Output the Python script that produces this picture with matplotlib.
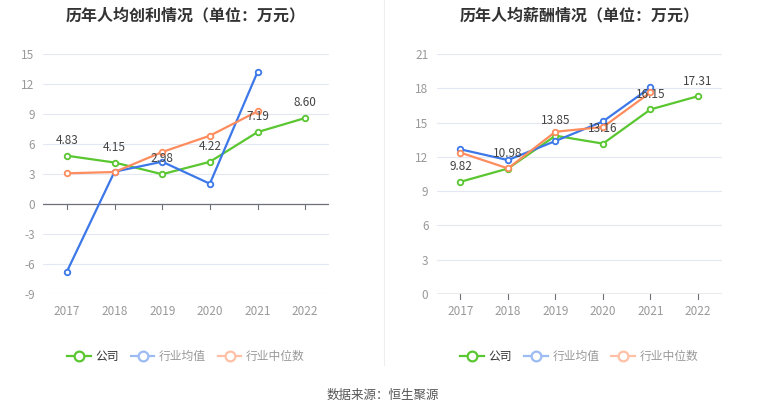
import numpy as np
import matplotlib.pyplot as plt
from matplotlib.lines import Line2D

plt.rcParams['font.family'] = ['Noto Sans CJK SC', 'DejaVu Sans']

years = ['2017', '2018', '2019', '2020', '2021', '2022']

# 人均创利
profit_company = [4.83, 4.15, 2.98, 4.22, 7.19, 8.60]
profit_mean = [-6.77, 3.23, 4.23, 2.03, 13.2]
profit_median = [3.07, 3.20, 5.20, 6.83, 9.27]

# 人均薪酬
salary_company = [9.82, 10.98, 13.85, 13.16, 16.15, 17.31]
salary_mean = [12.66, 11.72, 13.39, 15.10, 18.08]
salary_median = [12.37, 10.99, 14.20, 14.61, 17.64]

green = '#5AC630'
blue = '#3D78E8'
orange = '#FF8C5E'
green_l = '#5AC630'
blue_l = '#9DBBF3'
orange_l = '#FFC0A6'

fig = plt.figure(figsize=(7.65, 4.13), dpi=100)


def draw(ax, company, mean, median, ylim, yticks, title):
    x = np.arange(len(years))
    for vals, c in [(company, green), (mean, blue), (median, orange)]:
        xi = x[:len(vals)]
        ax.plot(xi, vals, color=c, lw=1.6, marker='o', ms=4,
                mfc='white', mec=c, mew=1.3, zorder=3)
    for xi, v in zip(x, company):
        ax.text(xi, v + ylim[1] * 0.035 if ylim[0] >= 0 else v + 0.9,
                f'{v:.2f}', ha='center', va='bottom', fontsize=8.5,
                color='#444444', zorder=4)
    ax.set_xlim(-0.5, len(years) - 0.5)
    ax.set_ylim(*ylim)
    ax.set_yticks(yticks)
    ax.set_yticklabels([str(t) for t in yticks])
    ax.set_xticks(x)
    ax.set_xticklabels(years)
    ax.grid(axis='y', color='#E3E8F3', lw=0.8)
    ax.set_axisbelow(True)
    for s in ['top', 'right', 'left', 'bottom']:
        ax.spines[s].set_visible(False)
    ax.axhline(0, color='#6E7079', lw=0.9, zorder=2)
    for xi in x:
        ax.plot([xi, xi], [0, -(ylim[1] - ylim[0]) * 0.02], color='#6E7079',
                lw=0.8, clip_on=False, zorder=2)
    ax.tick_params(axis='both', length=0, labelsize=8.5, colors='#999999', pad=6)
    ax.tick_params(axis='x', pad=8)
    ax.set_title(title, fontsize=11.5, fontweight='bold', color='#333333',
                 pad=24)
    handles = [
        Line2D([], [], color=green_l, lw=1.6, marker='o', ms=7, mfc='white', mec=green_l, mew=1.6),
        Line2D([], [], color=blue_l, lw=1.6, marker='o', ms=7, mfc='white', mec=blue_l, mew=1.6),
        Line2D([], [], color=orange_l, lw=1.6, marker='o', ms=7, mfc='white', mec=orange_l, mew=1.6),
    ]
    leg = ax.legend(handles, ['公司', '行业均值', '行业中位数'], loc='upper center',
                    bbox_to_anchor=(0.5, -0.19), ncol=3, frameon=False,
                    fontsize=8.5, handlelength=2.0, columnspacing=1.0,
                    handletextpad=0.4)
    for t, c in zip(leg.get_texts(), ['#333333', '#999999', '#999999']):
        t.set_color(c)


ax1 = fig.add_axes([0.0562, 0.2881, 0.3739, 0.5811])
draw(ax1, profit_company, profit_mean, profit_median, (-9, 15),
     [-9, -6, -3, 0, 3, 6, 9, 12, 15], '历年人均创利情况（单位：万元）')

ax2 = fig.add_axes([0.5709, 0.2881, 0.3725, 0.5811])
draw(ax2, salary_company, salary_mean, salary_median, (0, 21),
     [0, 3, 6, 9, 12, 15, 18, 21], '历年人均薪酬情况（单位：万元）')

fig.add_artist(Line2D([384 / 765, 384 / 765], [1 - 365 / 413, 1],
                      color='#EEEEEE', lw=0.8))
fig.text(0.5, 1 - 395 / 413, '数据来源：恒生聚源', ha='center', va='center',
         fontsize=9, color='#555555')

fig.savefig('out.png', dpi=100)
